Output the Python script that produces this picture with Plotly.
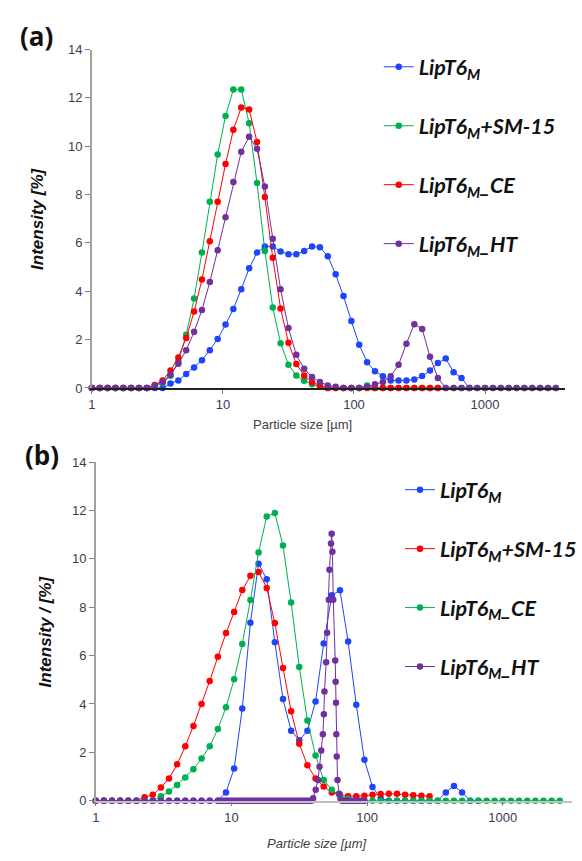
import plotly.graph_objects as go

# ---------------- size bins (µm), shared grid ----------------
size_um = [1.000, 1.148, 1.318, 1.514, 1.738, 1.995, 2.291, 2.630, 3.020, 3.467,
           3.981, 4.571, 5.248, 6.026, 6.918, 7.943, 9.120, 10.47, 12.02, 13.80,
           15.85, 18.20, 20.89, 23.99, 27.54, 31.62, 36.31, 41.69, 47.86, 54.95,
           63.10, 72.44, 83.18, 95.50, 109.6, 125.9, 144.5, 166.0, 190.5, 218.8,
           251.2, 288.4, 331.1, 380.2, 436.5, 501.2, 575.4, 660.7, 758.6, 871.0,
           1000, 1148, 1318, 1514, 1738, 1995, 2291, 2630, 3020, 3467]

# ---------------- panel (a) ----------------
a_blue = [0, 0, 0, 0, 0, 0, 0, 0, 0, 0,
          0.18, 0.31, 0.58, 0.85, 1.15, 1.56, 2.03, 2.62, 3.27, 4.08,
          4.95, 5.60, 5.85, 5.85, 5.65, 5.53, 5.53, 5.67, 5.85, 5.82,
          5.45, 4.70, 3.80, 2.77, 1.79, 1.06, 0.69, 0.48, 0.31, 0.31,
          0.31, 0.35, 0.49, 0.72, 1.03, 1.22, 0.65, 0.41, 0]
a_green = [0, 0, 0, 0, 0, 0, 0, 0, 0.05, 0.20,
           0.50, 1.10, 2.20, 3.70, 5.60, 7.70, 9.66, 11.25, 12.35, 12.35,
           10.95, 8.48, 5.67, 3.33, 1.85, 0.96, 0.52, 0.30, 0.15, 0.05,
           0, 0, 0, 0, 0, 0.10, 0, 0, 0, 0,
           0, 0, 0, 0, 0, 0, 0, 0, 0, 0,
           0, 0, 0, 0, 0, 0, 0, 0, 0, 0]
a_red = [0, 0, 0, 0, 0, 0, 0, 0, 0.12, 0.31,
         0.72, 1.26, 2.07, 3.16, 4.49, 6.07, 7.70, 9.26, 10.68, 11.60,
         11.52, 10.18, 7.90, 5.39, 3.29, 1.87, 0.99, 0.52, 0.24, 0.10,
         0, 0, 0, 0, 0, 0, 0, 0, 0, 0,
         0, 0, 0, 0, 0]
a_purple = [0, 0, 0, 0, 0, 0, 0, 0, 0.10, 0.25,
            0.55, 1.00, 1.56, 2.32, 3.23, 4.38, 5.70, 7.06, 8.52, 9.77,
            10.39, 9.90, 8.33, 6.17, 4.08, 2.48, 1.37, 0.79, 0.45, 0.25,
            0.10, 0.05, 0, 0, 0, 0.05, 0.15, 0.25, 0.48, 0.96,
            1.83, 2.64, 2.44, 1.29, 0.41, 0, 0, 0, 0, 0,
            0, 0, 0, 0, 0, 0, 0, 0, 0, 0]

# ---------------- panel (b) ----------------
b_blue = [0, 0, 0, 0, 0, 0, 0, 0, 0, 0,
          0, 0, 0, 0, 0, 0, 0.34, 1.33, 3.81, 7.36,
          9.80, 9.16, 6.55, 4.20, 2.89, 2.50, 2.89, 4.10, 6.50, 8.50,
          8.70, 6.58, 3.97, 1.69, 0.56, 0.10, 0, 0, 0, 0,
          0, 0, 0, 0.34, 0.61, 0.34, 0, 0]
b_red = [0, 0, 0, 0, 0, 0, 0.14, 0.24, 0.54, 0.92,
         1.50, 2.25, 3.09, 4.00, 4.95, 5.95, 6.93, 7.80, 8.71, 9.30,
         9.46, 8.80, 7.35, 5.49, 3.70, 2.35, 1.46, 0.92, 0.58, 0.34,
         0.24, 0.18, 0.18, 0.20, 0.24, 0.27, 0.28, 0.28, 0.24, 0.22,
         0.20, 0.18]
b_green_size = size_um[1:59]
b_green = [0, 0, 0, 0, 0, 0, 0, 0.18, 0.38,
           0.65, 0.96, 1.30, 1.74, 2.25, 2.96, 3.86, 5.02, 6.48, 8.30,
           10.27, 11.75, 11.90, 10.55, 8.20, 5.53, 3.32, 1.87, 0.85, 0.45,
           0.18, 0.08, 0, 0, 0, 0, 0, 0, 0, 0,
           0, 0, 0, 0, 0, 0, 0, 0, 0, 0,
           0, 0, 0, 0, 0, 0, 0, 0]
# HT sample in (b) was recorded on a finer size grid above ~8 µm
b_purple_size = [1.000, 1.148, 1.318, 1.514, 1.738, 1.995, 2.291, 2.630, 3.020, 3.467,
                 3.981, 4.571, 5.248, 6.026, 6.918,
                 7.943, 8.222, 8.511, 8.810, 9.120, 9.441, 9.772, 10.12, 10.47, 10.84,
                 11.22, 11.61, 12.02, 12.45, 12.88, 13.34, 13.80, 14.29, 14.79, 15.31,
                 15.85, 16.41, 16.98, 17.58, 18.20, 18.84, 19.50, 20.18, 20.89, 21.63,
                 22.39, 23.17, 23.99, 24.83, 25.70, 26.61, 27.54, 28.51, 29.51, 30.55,
                 31.62, 32.73, 33.88, 35.08, 36.31, 37.58, 38.90,
                 40.0, 41.8, 43.5, 44.6, 45.9, 47.2, 48.0, 48.5, 49.9, 50.7,
                 52.2, 52.8, 54.2, 54.8, 55.5, 56.3, 58.2, 58.6, 59.0, 59.3,
                 59.7, 60.5, 62.1, 63.9,
                 65.31, 67.61, 69.98, 72.44, 74.99, 77.62, 80.35, 83.18, 86.10, 89.13,
                 92.26, 95.50]
b_purple = [0, 0, 0, 0, 0, 0, 0, 0, 0, 0,
            0, 0, 0, 0, 0,
            0, 0, 0, 0, 0, 0, 0, 0, 0, 0,
            0, 0, 0, 0, 0, 0, 0, 0, 0, 0,
            0, 0, 0, 0, 0, 0, 0, 0, 0, 0,
            0, 0, 0, 0, 0, 0, 0, 0, 0, 0,
            0, 0, 0, 0, 0, 0, 0,
            0.10, 0.45, 0.85, 1.40, 2.07, 2.75, 3.57, 4.51, 5.73, 6.95,
            8.31, 9.55, 10.64, 11.04, 10.30, 8.31, 5.80, 4.92, 4.05, 2.75,
            1.83, 0.85, 0.28, 0.05,
            0, 0, 0, 0, 0, 0, 0, 0, 0, 0,
            0, 0]

names_a = ["LipT6<sub>M</sub>", "LipT6<sub>M</sub>+SM-15", "LipT6<sub>M</sub>_CE", "LipT6<sub>M</sub>_HT"]
names_b = ["LipT6<sub>M</sub>", "LipT6<sub>M</sub>+SM-15", "LipT6<sub>M</sub>_CE", "LipT6<sub>M</sub>_HT"]
y_ticks = [0, 2, 4, 6, 8, 10, 12, 14]
x_ticks = [1, 10, 100, 1000]

BLUE = "#1f45fc"
GREEN = "#00b050"
RED = "#ff0000"
PURPLE = "#7030a0"

W, H = 582, 861
def px(v):
    return v / W
def py(v):
    return 1 - v / H

fig = go.Figure()

def add(x, y, name, color, xa, ya, legend, group):
    fig.add_trace(go.Scatter(
        x=x, y=y, name=name, mode="lines+markers",
        line=dict(color=color, width=1),
        marker=dict(color=color, size=6.5),
        xaxis=xa, yaxis=ya, legend=legend, legendgroup=group,
        cliponaxis=False, showlegend=True))

add(size_um[:len(a_blue)], a_blue, names_a[0], BLUE, "x", "y", "legend", "a1")
add(size_um[:len(a_green)], a_green, names_a[1], GREEN, "x", "y", "legend", "a2")
add(size_um[:len(a_red)], a_red, names_a[2], RED, "x", "y", "legend", "a3")
add(size_um[:len(a_purple)], a_purple, names_a[3], PURPLE, "x", "y", "legend", "a4")

add(size_um[:len(b_blue)], b_blue, names_b[0], BLUE, "x2", "y2", "legend2", "b1")
add(size_um[:len(b_red)], b_red, names_b[1], RED, "x2", "y2", "legend2", "b2")
add(b_green_size, b_green, names_b[2], GREEN, "x2", "y2", "legend2", "b3")
add(b_purple_size, b_purple, names_b[3], PURPLE, "x2", "y2", "legend2", "b4")

tickfont = dict(family="Liberation Sans", size=13, color="#3c3c50")
xt = dict(type="log", tickmode="array", tickvals=x_ticks, ticktext=[str(v) for v in x_ticks],
          showgrid=False, zeroline=False, showline=True, ticks="outside", ticklen=4,
          tickcolor="#808080", tickfont=tickfont)
yt = dict(range=[0, 14], tickmode="array", tickvals=y_ticks, ticktext=[str(v) for v in y_ticks],
          showgrid=False, zeroline=False, showline=True,
          linecolor="#a0a0a0", linewidth=1.5, ticks="outside", ticklen=5,
          tickcolor="#808080", tickfont=tickfont)

legfont = dict(family="Lato", size=21.5, color="#111111", weight="bold", style="italic")

fig.update_layout(
    width=W, height=H, margin=dict(l=0, r=0, t=0, b=0),
    paper_bgcolor="white", plot_bgcolor="white",
    xaxis=dict(xt, domain=[px(90), px(575)], range=[0, 3.611], anchor="y",
               linecolor="#202020", linewidth=1.5),
    yaxis=dict(yt, domain=[py(387.7), py(43.3)], anchor="x"),
    xaxis2=dict(xt, domain=[px(94), 1.0], range=[0, 3.51], anchor="y2",
                linecolor="#c0c0c0", linewidth=1.5),
    yaxis2=dict(yt, domain=[py(807.7), py(463.3)], anchor="x2"),
    legend=dict(x=px(384), y=py(40.0), xanchor="left", yanchor="top",
                font=legfont, tracegroupgap=28.0, bgcolor="rgba(0,0,0,0)", borderwidth=0),
    legend2=dict(x=px(406), y=py(470.4), xanchor="left", yanchor="top",
                 font=legfont, tracegroupgap=28.0, bgcolor="rgba(0,0,0,0)", borderwidth=0),
    showlegend=True,
)

def note(text, x, y, size, family="Liberation Sans", color="#111111", angle=0):
    return dict(text=text, x=px(x), y=py(y), xref="paper", yref="paper",
                xanchor="center", yanchor="middle", showarrow=False, textangle=angle,
                font=dict(family=family, size=size, color=color))

ann = [
    note("<b>(a)</b>", 33, 30, 26, family="Open Sans"),
    note("<b>(b)</b>", 39, 456, 26, family="Open Sans"),
    note("<b><i>Intensity [%]</i></b>", 35, 215.5, 17, angle=-90),
    note("<b><i>Intensity / [%]</i></b>", 42, 635.5, 17, angle=-90),
    note("Particle size [µm]", 305.5, 425, 13, color="#404040"),
    note("<i>Particle size [µm]</i>", 321, 851.5, 13, color="#404040"),
]
fig.update_layout(annotations=ann)

fig.write_html("out.html", config={"displayModeBar": False},
               post_script="document.body.style.margin='0px';")
